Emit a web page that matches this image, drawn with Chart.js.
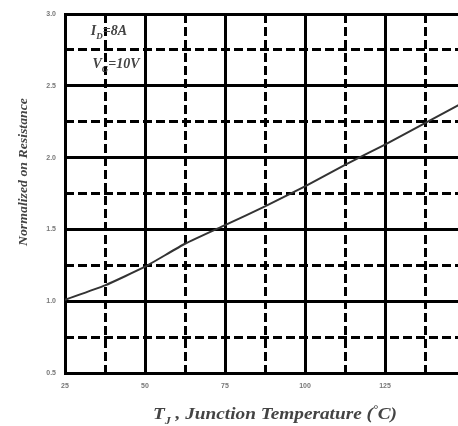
<!DOCTYPE html>
<html>
<head>
<meta charset="utf-8">
<script src="https://cdn.jsdelivr.net/npm/chart.js@4.4.0/dist/chart.umd.min.js"></script>
<style>
  html, body { margin: 0; padding: 0; background: #fff; overflow: hidden; width: 458px; height: 426px; }
  #wrap { width: 474px; height: 426px; }
  canvas { display: block; }
</style>
</head>
<body>
<div id="wrap"><canvas id="chart" width="474" height="426"></canvas></div>
<script>
// junction temperature (deg C) and normalized on-resistance
const temps = [25, 37.5, 50, 62.5, 75, 87.5, 100, 112.5, 125, 137.5, 150];
const rdsNorm = [1.01, 1.11, 1.24, 1.4, 1.53, 1.66, 1.8, 1.95, 2.09, 2.24, 2.39];
const xTicks = [25, 50, 75, 100, 125, 150];
const yTicks = [0.5, 1.0, 1.5, 2.0, 2.5, 3.0];

const points = temps.map((t, i) => ({ x: t, y: rdsNorm[i] }));

// draws runs of text (normal / subscript / superscript), squeezed or stretched to a width
function drawRuns(ctx, parts, cx, y, size, width) {
  const big = `italic bold ${size}px 'Liberation Serif'`;
  const small = `italic bold ${Math.round(size * 0.65)}px 'Liberation Serif'`;
  let w = 0;
  for (const p of parts) {
    ctx.font = p.sub || p.sup ? small : big;
    w += ctx.measureText(p.t).width;
  }
  const k = width ? width / w : 1;
  ctx.save();
  ctx.translate(cx - (w * k) / 2, y);
  ctx.scale(k, 1);
  let x = 0;
  for (const p of parts) {
    ctx.font = p.sub || p.sup ? small : big;
    ctx.fillText(p.t, x, p.sub ? size * 0.3 : p.sup ? -size * 0.4 : 0);
    x += ctx.measureText(p.t).width;
  }
  ctx.restore();
}

const textPlugin = {
  id: "texts",
  afterDraw(chart) {
    const ctx = chart.ctx;
    ctx.save();
    ctx.fillStyle = "#444";
    ctx.textBaseline = "alphabetic";

    // test conditions, top-left
    drawRuns(ctx, [{ t: "I" }, { t: "D", sub: true }, { t: "=8A" }], 109, 35, 14);
    drawRuns(ctx, [{ t: "V" }, { t: "G", sub: true }, { t: "=10V" }], 116, 68, 14);

    // x title
    drawRuns(
      ctx,
      [{ t: "T" }, { t: "J", sub: true }, { t: " , Junction Temperature (" }, { t: "°", sup: true }, { t: "C)" }],
      275, 419, 16, 244
    );

    // y title
    ctx.translate(27, 172);
    ctx.rotate(-Math.PI / 2);
    drawRuns(ctx, [{ t: "Normalized on Resistance" }], 0, 0, 12, 148);
    ctx.restore();
  },
};

const solid = { color: "#000", lineWidth: 3, drawTicks: false };
const dashed = (step) => ({
  color: (c) => (Math.abs(c.tick.value / step - Math.round(c.tick.value / step)) < 1e-6 ? "rgba(0,0,0,0)" : "#000"),
  lineWidth: 3,
  drawTicks: false,
});
const tickFont = { size: 7, weight: "bold", family: "Liberation Sans" };

new Chart(document.getElementById("chart"), {
  type: "line",
  plugins: [textPlugin],
  data: {
    datasets: [
      {
        data: points,
        borderColor: "#333",
        borderWidth: 2,
        pointRadius: 0,
        tension: 0.15,
        xAxisID: "x",
        yAxisID: "y",
      },
    ],
  },
  options: {
    responsive: false,
    animation: false,
    layout: { padding: { top: 14, right: 0, left: 0, bottom: 0 } },
    plugins: { legend: { display: false }, tooltip: { enabled: false } },
    scales: {
      xMinor: {
        type: "linear",
        position: "bottom",
        min: 25,
        max: 150,
        ticks: { display: false, stepSize: 12.5 },
        grid: dashed(25),
        border: { display: false, dash: [9, 4] },
        afterFit: (s) => { s.height = 0; },
      },
      yMinor: {
        type: "linear",
        position: "left",
        min: 0.5,
        max: 3.0,
        ticks: { display: false, stepSize: 0.25 },
        grid: dashed(0.5),
        border: { display: false, dash: [9, 4] },
        afterFit: (s) => { s.width = 0; },
      },
      x: {
        type: "linear",
        position: "bottom",
        min: 25,
        max: 150,
        afterBuildTicks: (s) => { s.ticks = xTicks.map((v) => ({ value: v })); },
        ticks: {
          color: "#777",
          font: tickFont,
          padding: 9,
          callback: (v) => (v === 150 ? "" : String(v)),
        },
        grid: solid,
        border: { color: "#000", width: 3 },
        afterFit: (s) => { s.height = 53; },
      },
      y: {
        type: "linear",
        position: "left",
        min: 0.5,
        max: 3.0,
        afterBuildTicks: (s) => { s.ticks = yTicks.map((v) => ({ value: v })); },
        ticks: {
          color: "#777",
          font: tickFont,
          padding: 9,
          callback: (v) => v.toFixed(1),
        },
        grid: solid,
        border: { color: "#000", width: 3 },
        afterFit: (s) => { s.width = 65; },
      },
    },
  },
});
</script>
</body>
</html>
